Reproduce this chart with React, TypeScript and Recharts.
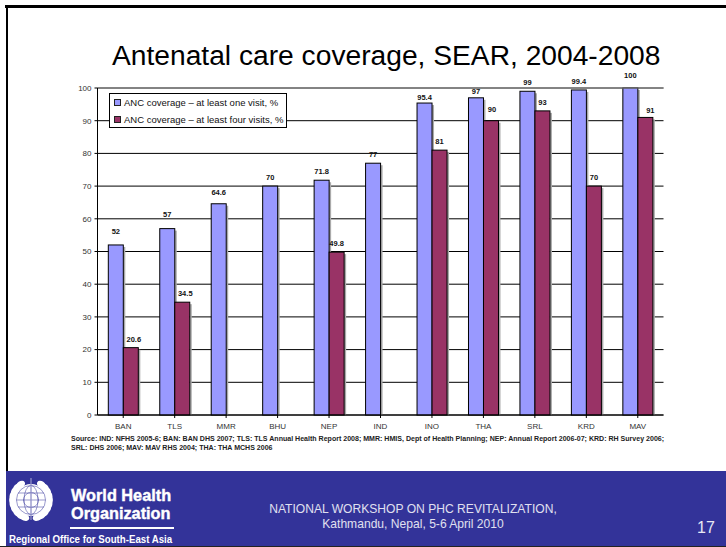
import { Bar, BarChart, CartesianGrid, LabelList, Legend, ReferenceLine, XAxis, YAxis } from "recharts";

const categories = ["BAN", "TLS", "MMR", "BHU", "NEP", "IND", "INO", "THA", "SRL", "KRD", "MAV"];
const oneVisit = [52, 57, 64.6, 70, 71.8, 77, 95.4, 97, 99, 99.4, 100];
const fourVisits = [20.6, 34.5, null, null, 49.8, null, 81, 90, 93, 70, 91];
const yTicks = [0, 10, 20, 30, 40, 50, 60, 70, 80, 90, 100];

const oneVisitName = "ANC coverage – at least one visit, %";
const fourVisitsName = "ANC coverage – at least four visits, %";
const oneVisitColor = "#9999ff";
const fourVisitsColor = "#993366";

const sourceLines = [
  "Source: IND: NFHS 2005-6; BAN: BAN DHS 2007; TLS: TLS Annual Health Report 2008; MMR: HMIS, Dept of Health Planning; NEP: Annual Report 2006-07; KRD: RH Survey 2006;",
  "SRL: DHS 2006; MAV: MAV RHS 2004; THA: THA MCHS 2006",
];

// the labels were hand placed in the original slide, so nudge them a bit
const oneLabelLift = [5, 6, 3, 0, 0, 0, -3, -2, 0, 0, 4];
const fourLabelLift = [0, 0, 0, 0, 3, 0, 0, -2, 0, 0, 0];
const fourLabelShift = [3, 3, 0, 0, 1, 0, 0, 5, 5, 0, 0];

const data = categories.map((name, i) => ({ name, one: oneVisit[i], four: fourVisits[i] }));

const font = "'Liberation Sans', Arial, sans-serif";

// bar with the grey shadow on its right side
const ShadowBar = (props: any) => {
  const { x, y, width, height, fill } = props;
  if (!height) return null;
  return (
    <g>
      <rect x={x + width} y={y + 2} width={2} height={height - 2} fill="#aaaaaa" />
      <rect x={x} y={y} width={width} height={height} fill={fill} stroke="#000" strokeWidth={1} />
    </g>
  );
};

const valueLabel = (lift: number[], shift?: number[]) => (props: any) => {
  const { x, y, width, value, index } = props;
  if (value == null) return null;
  return (
    <text
      x={x + width / 2 + (shift ? shift[index] : 0)}
      y={y - 6 - lift[index]}
      textAnchor="middle"
      fontSize={7.5}
      fontWeight="bold"
      fontFamily={font}
      fill="#111"
    >
      {value}
    </text>
  );
};

const LegendBox = () => (
  <div
    style={{
      position: "absolute",
      left: 109,
      top: 93,
      width: 176,
      height: 33,
      background: "#fff",
      border: "1px solid #000",
      fontFamily: font,
      fontSize: 9.5,
      color: "#111",
    }}
  >
    {[
      [oneVisitName, oneVisitColor],
      [fourVisitsName, fourVisitsColor],
    ].map(([label, color], i) => (
      <div key={label} style={{ position: "absolute", left: 4, top: 3 + i * 17, whiteSpace: "nowrap", lineHeight: "11px" }}>
        <span
          style={{
            display: "inline-block",
            width: 5,
            height: 5,
            background: color,
            border: "1px solid #222",
            marginRight: 3,
          }}
        />
        {label}
      </div>
    ))}
  </div>
);

const Emblem = () => {
  const leaves = [0, 1, 2, 3, 4, 5, 6, 7, 8, 9];
  const cx0 = 23;
  const cy0 = 22;
  return (
    <svg width={46} height={50} style={{ position: "absolute", left: 8, top: 478 }} viewBox="0 0 46 50">
      {leaves.map((i) => {
        const deg = -70 + i * 14;
        const a = (deg * Math.PI) / 180;
        const cx = cx0 + 18.5 * Math.cos(a);
        const cy = cy0 - 18.5 * Math.sin(a);
        return (
          <g key={i}>
            <ellipse cx={cx} cy={cy} rx={3.4} ry={4.8} fill="#fff" transform={`rotate(${-deg} ${cx} ${cy})`} />
            <ellipse cx={46 - cx} cy={cy} rx={3.4} ry={4.8} fill="#fff" transform={`rotate(${deg} ${46 - cx} ${cy})`} />
          </g>
        );
      })}
      <circle cx={cx0} cy={cy0} r={16} fill="#fff" />
      <circle cx={cx0} cy={cy0} r={14.5} fill="none" stroke="#333399" strokeWidth={0.5} />
      <ellipse cx={cx0} cy={cy0} rx={7} ry={14.5} fill="none" stroke="#333399" strokeWidth={0.5} />
      <circle cx={cx0} cy={cy0} r={7.5} fill="none" stroke="#333399" strokeWidth={0.5} />
      <path d="M8.5 22H37.5M10 15H36M10 29H36" stroke="#333399" strokeWidth={0.5} fill="none" />
      <path d="M23 0V44" stroke="#333399" strokeWidth={1} />
      <path d="M23 0V42" stroke="#fff" strokeWidth={0.6} />
    </svg>
  );
};

export default function App() {
  return (
    <div style={{ position: "absolute", left: 0, top: 0, width: 726, height: 547, background: "#fff", overflow: "hidden" }}>
      <div style={{ position: "absolute", left: 5, top: 5, width: 721, height: 2.5, background: "#000" }} />
      <div style={{ position: "absolute", left: 5.5, top: 5, width: 2.5, height: 542, background: "#000" }} />

      <div
        style={{
          position: "absolute",
          left: 112,
          top: 40,
          fontFamily: font,
          fontSize: 28.2,
          lineHeight: "30px",
          color: "#000",
          whiteSpace: "nowrap",
        }}
      >
        Antenatal care coverage, SEAR, 2004-2008
      </div>

      <div style={{ position: "absolute", left: 0, top: 0 }}>
        <BarChart
          width={726}
          height={547}
          data={data}
          barCategoryGap="21%"
          barGap={0}
          margin={{ top: 88, right: 62.5, bottom: 112, left: 67.5 }}
        >
          <CartesianGrid vertical={false} stroke="#000" strokeWidth={1} />
          <XAxis
            dataKey="name"
            height={20}
            stroke="#000"
            tickSize={3}
            tickMargin={5}
            interval={0}
            tick={{ fontSize: 8, fontFamily: font, fill: "#333" }}
          />
          <YAxis
            width={30}
            domain={[0, 100]}
            ticks={yTicks}
            stroke="#000"
            tickSize={3}
            tickMargin={3}
            interval={0}
            tick={{ fontSize: 8, fontFamily: font, fill: "#333" }}
          />
          <YAxis yAxisId="frame" orientation="right" width={0} domain={[0, 100]} tick={false} tickLine={false} stroke="#999" />
          <ReferenceLine y={100} stroke="#888" strokeWidth={1} />
          <Legend content={() => <LegendBox />} layout="vertical" align="center" verticalAlign="middle" wrapperStyle={{ position: "absolute", left: 0, top: 0, width: 0, height: 0 }} />
          <Bar dataKey="one" name={oneVisitName} fill={oneVisitColor} shape={ShadowBar} isAnimationActive={false}>
            <LabelList dataKey="one" content={valueLabel(oneLabelLift)} />
          </Bar>
          <Bar dataKey="four" name={fourVisitsName} fill={fourVisitsColor} shape={ShadowBar} isAnimationActive={false}>
            <LabelList dataKey="four" content={valueLabel(fourLabelLift, fourLabelShift)} />
          </Bar>
        </BarChart>
      </div>

      <div
        style={{
          position: "absolute",
          left: 71,
          top: 434,
          fontFamily: font,
          fontSize: 7.05,
          fontWeight: "bold",
          lineHeight: "9px",
          color: "#222",
          whiteSpace: "nowrap",
        }}
      >
        {sourceLines.map((line) => (
          <div key={line}>{line}</div>
        ))}
      </div>

      <div style={{ position: "absolute", left: 5.5, top: 471, width: 721, height: 75, background: "#333399" }} />
      <div style={{ position: "absolute", left: 0, top: 546, width: 726, height: 1, background: "#222" }} />
      <Emblem />
      <div
        style={{
          position: "absolute",
          left: 71,
          top: 486,
          fontFamily: font,
          fontWeight: "bold",
          fontSize: 16.3,
          lineHeight: "18px",
          color: "#fff",
          WebkitTextStroke: "0.4px #fff",
          whiteSpace: "nowrap",
        }}
      >
        <div>World Health</div>
        <div>Organization</div>
      </div>
      <div style={{ position: "absolute", left: 70, top: 527, width: 104, height: 1.5, background: "#fff" }} />
      <div
        style={{
          position: "absolute",
          left: 9,
          top: 533,
          fontFamily: font,
          fontWeight: "bold",
          fontSize: 11,
          lineHeight: "13px",
          color: "#fff",
          whiteSpace: "nowrap",
          transform: "scaleX(0.88)",
          transformOrigin: "left top",
        }}
      >
        Regional Office for South-East Asia
      </div>
      <div
        style={{
          position: "absolute",
          left: 213,
          width: 400,
          top: 502,
          textAlign: "center",
          fontFamily: font,
          fontSize: 12.1,
          lineHeight: "15px",
          color: "#e0e0f0",
        }}
      >
        <div>NATIONAL WORKSHOP ON PHC REVITALIZATION,</div>
        <div>Kathmandu, Nepal, 5-6 April 2010</div>
      </div>
      <div
        style={{
          position: "absolute",
          left: 697,
          top: 519,
          fontFamily: font,
          fontSize: 16,
          lineHeight: "18px",
          color: "#e8e8f4",
        }}
      >
        17
      </div>
    </div>
  );
}
